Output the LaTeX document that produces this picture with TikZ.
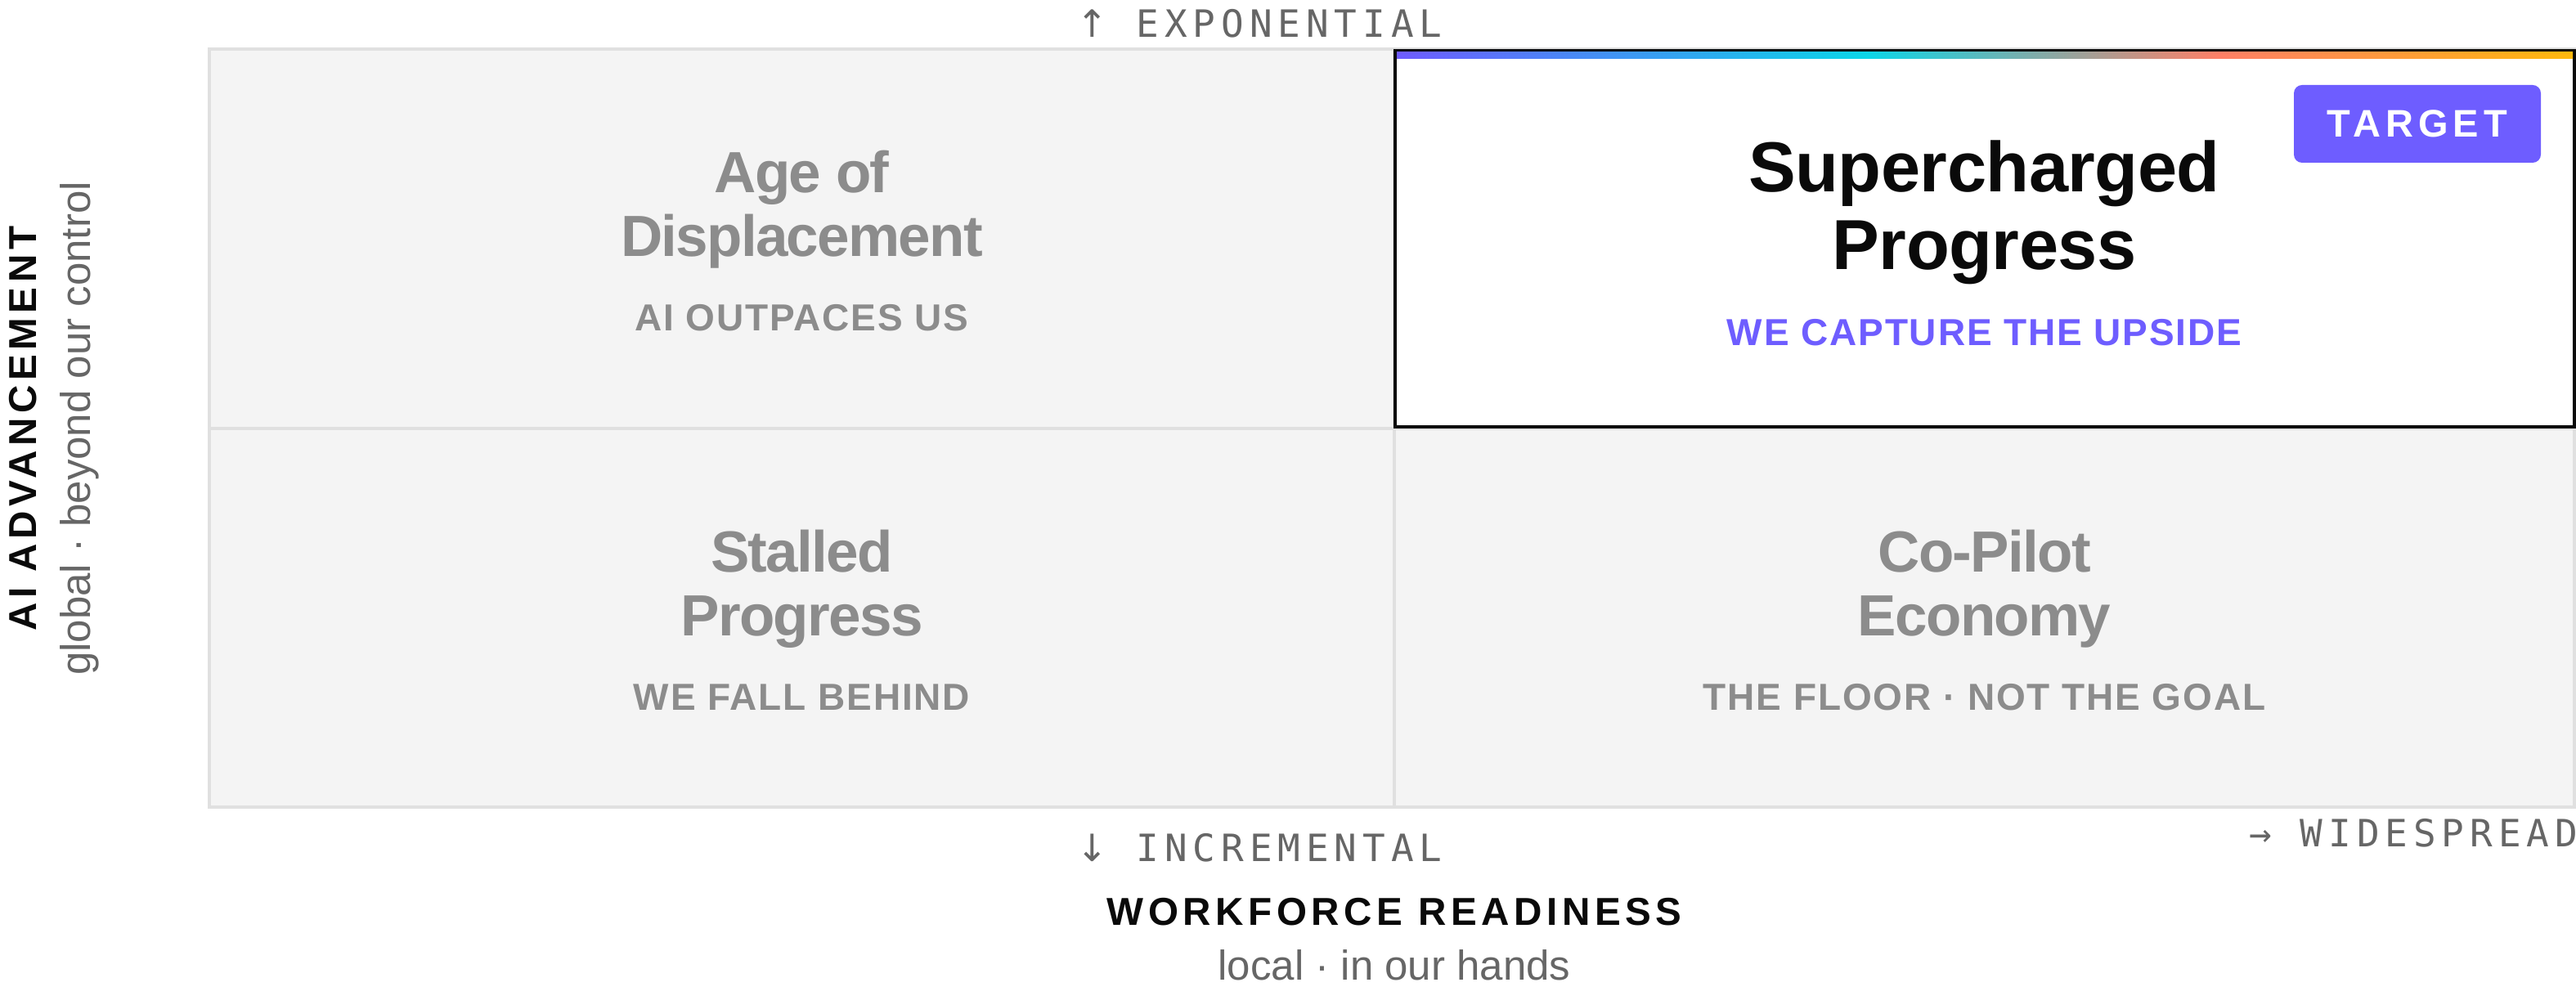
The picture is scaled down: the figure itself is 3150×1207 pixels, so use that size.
\documentclass[tikz,border=0pt]{standalone}
\usepackage{fontspec}
\setmainfont{Liberation Sans}
\newfontfamily\ttlfont{Liberation Sans}[LetterSpace=-2.4]
\newfontfamily\bigfont{Liberation Sans}[LetterSpace=-0.6]
\newfontfamily\subfont{Liberation Sans}[LetterSpace=4]
\newfontfamily\axfont{Liberation Sans}[LetterSpace=11.7]
\newfontfamily\tagfont{Liberation Sans}[LetterSpace=13]
\newfontfamily\lblmono{DejaVu Sans Mono}[LetterSpace=15]
\newfontfamily\arrowfont{DejaVu Sans}
\definecolor{cellfill}{HTML}{F4F4F4}
\definecolor{gridline}{HTML}{E0E0E0}
\definecolor{qgray}{HTML}{8C8C8C}
\definecolor{axgray}{HTML}{666666}
\definecolor{accent}{HTML}{6E5DFF}
\definecolor{ink}{HTML}{0A0A0A}
\definecolor{gA}{HTML}{6E5BFF}
\definecolor{gB}{HTML}{0BD6E8}
\definecolor{gC}{HTML}{FF7F66}
\definecolor{gD}{HTML}{FFB80D}
\tikzset{
  txt/.style={inner sep=0pt, outer sep=0pt, anchor=base},
  qtitle/.style={txt, text=qgray, font=\ttlfont\bfseries\fontsize{17.75pt}{20pt}\selectfont},
  qbig/.style={txt, text=ink, font=\bigfont\bfseries\fontsize{21.65pt}{24pt}\selectfont},
  qsub/.style={txt, text=qgray, font=\subfont\bfseries\fontsize{11.5pt}{13pt}\selectfont},
  axbold/.style={txt, text=ink, font=\axfont\bfseries\fontsize{11.9pt}{13pt}\selectfont},
  axsub/.style={txt, text=axgray, font=\fontsize{12.75pt}{14pt}\selectfont},
  monolbl/.style={txt, text=axgray, font=\lblmono\fontsize{11.5pt}{13pt}\selectfont},
  badge/.style={rectangle, rounded corners=2.5pt, fill=accent, text=white,
    minimum width=75.5pt, minimum height=23.75pt, inner sep=0pt,
    font=\tagfont\bfseries\fontsize{11.75pt}{13pt}\selectfont},
}
\begin{document}
\begin{tikzpicture}[x=0.25pt,y=-0.25pt]
\useasboundingbox (0,0) rectangle (3150,1207);
\fill[white] (0,0) rectangle (3150,1207);
% grid
\fill[gridline] (254,58) rectangle (3150,989);
\fill[cellfill] (258,62) rectangle (1703,522);
\fill[cellfill] (258,526) rectangle (1703,985);
\fill[cellfill] (1707,526) rectangle (3146,985);
% target quadrant
\draw[ink, line width=1pt, fill=white] (1706,62) rectangle (3148,522);
\fill[left color=gA, right color=gB] (1708,64) rectangle (2283,72);
\fill[left color=gB, right color=gC] (2282,64) rectangle (2715,72);
\fill[left color=gC, right color=gD] (2714,64) rectangle (3146,72);
\node[badge] (tag) at (2956,151.5) {TARGET};
% quadrant texts
\node[qtitle] (t1a) at (980.5,236) {Age of};
\node[qtitle] (t1b) at (980.5,314) {Displacement};
\node[qsub] (s1) at (980.5,405) {AI OUTPACES US};
\node[qbig] (t2a) at (2426.5,235) {Supercharged};
\node[qbig] (t2b) at (2426.5,330) {Progress};
\node[qsub, text=accent] (s2) at (2426.5,423) {WE CAPTURE THE UPSIDE};
\node[qtitle] (t3a) at (980.5,700) {Stalled};
\node[qtitle] (t3b) at (980.5,778) {Progress};
\node[qsub] (s3) at (980.5,869) {WE FALL BEHIND};
\node[qtitle] (t4a) at (2426.5,700) {Co-Pilot};
\node[qtitle] (t4b) at (2426.5,778) {Economy};
\node[qsub] (s4) at (2426.5,869) {THE FLOOR · NOT THE GOAL};
% axis labels
\node[monolbl] (up) at (1540,46) {{\arrowfont ↑} EXPONENTIAL};
\node[monolbl] (down) at (1540,1054) {{\arrowfont ↓} INCREMENTAL};
\node[monolbl, anchor=base east] (right) at (3152,1036) {→ WIDESPREAD};
\node[axbold] (xax) at (1705,1132) {WORKFORCE READINESS};
\node[axsub] (xsub) at (1705,1198) {local · in our hands};
\node[axbold, rotate=90] (yax) at (44,524) {AI ADVANCEMENT};
\node[axsub, rotate=90] (ysub) at (110,524) {global · beyond our control};
\end{tikzpicture}
\end{document}
